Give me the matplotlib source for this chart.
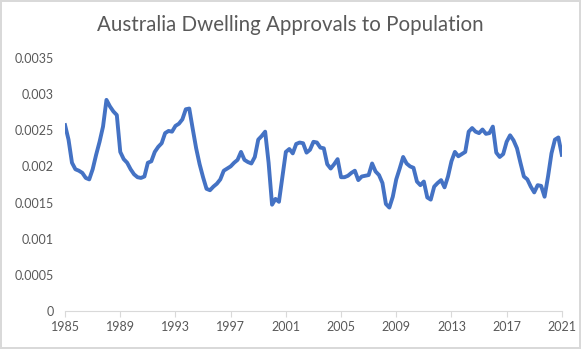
import matplotlib.pyplot as plt
import numpy as np

# --- quarterly ratio, 1985 Q1 to 2021 Q1 ---
start_year = 1985
end_year = 2021
ratio = [
    0.00257, 0.00237, 0.00205, 0.00196,   # 1985
    0.00194, 0.00191, 0.00184, 0.00182,   # 1986
    0.00196, 0.00216, 0.00234, 0.00255,   # 1987
    0.00292, 0.00283, 0.00276, 0.00271,   # 1988
    0.00220, 0.00210, 0.00205, 0.00196,   # 1989
    0.00189, 0.00185, 0.00184, 0.00186,   # 1990
    0.00205, 0.00207, 0.00220, 0.00227,   # 1991
    0.00232, 0.00246, 0.00249, 0.00248,   # 1992
    0.00256, 0.00259, 0.00265, 0.00279,   # 1993
    0.00280, 0.00252, 0.00225, 0.00203,   # 1994
    0.00185, 0.00169, 0.00167, 0.00172,   # 1995
    0.00176, 0.00182, 0.00194, 0.00197,   # 1996
    0.00200, 0.00205, 0.00209, 0.00220,   # 1997
    0.00209, 0.00206, 0.00204, 0.00213,   # 1998
    0.00237, 0.00242, 0.00248, 0.00205,   # 1999
    0.00147, 0.00155, 0.00151, 0.00186,   # 2000
    0.00220, 0.00224, 0.00218, 0.00231,   # 2001
    0.00233, 0.00232, 0.00219, 0.00223,   # 2002
    0.00234, 0.00233, 0.00226, 0.00225,   # 2003
    0.00203, 0.00197, 0.00203, 0.00210,   # 2004
    0.00185, 0.00185, 0.00187, 0.00191,   # 2005
    0.00194, 0.00181, 0.00186, 0.00187,   # 2006
    0.00188, 0.00204, 0.00193, 0.00188,   # 2007
    0.00177, 0.00148, 0.00143, 0.00158,   # 2008
    0.00182, 0.00197, 0.00213, 0.00204,   # 2009
    0.00200, 0.00198, 0.00179, 0.00174,   # 2010
    0.00179, 0.00157, 0.00154, 0.00172,   # 2011
    0.00177, 0.00181, 0.00171, 0.00186,   # 2012
    0.00207, 0.00220, 0.00214, 0.00217,   # 2013
    0.00220, 0.00248, 0.00253, 0.00248,   # 2014
    0.00246, 0.00251, 0.00245, 0.00246,   # 2015
    0.00255, 0.00219, 0.00213, 0.00217,   # 2016
    0.00234, 0.00243, 0.00236, 0.00225,   # 2017
    0.00205, 0.00186, 0.00182, 0.00172,   # 2018
    0.00164, 0.00174, 0.00173, 0.00158,   # 2019
    0.00186, 0.00218, 0.00237, 0.00240,   # 2020
    0.00216,                              # 2021
]
tick_years = list(range(start_year, end_year + 1, 4))
y_ticks = [0, 0.0005, 0.001, 0.0015, 0.002, 0.0025, 0.003, 0.0035]
y_labels = ["0", "0.0005", "0.001", "0.0015", "0.002", "0.0025", "0.003", "0.0035"]

plt.rcParams["font.family"] = ["Lato", "DejaVu Sans"]
grey = "#595959"

# --- canvas with the light Excel border ---
fig = plt.figure(figsize=(5.81, 3.49), dpi=100,
                 edgecolor="#D9D9D9", linewidth=1.5)
ax = fig.add_axes([0.112, 0.109, 0.855, 0.725])

x = np.arange(len(ratio))
ax.plot(x, ratio, color="#4472C4", linewidth=2.8, solid_joinstyle="round")

# --- axes styling ---
ax.set_xlim(0, len(ratio) - 1)
ax.set_ylim(0, 0.0035)
ax.set_xticks([(yr - start_year) * 4 for yr in tick_years])
ax.set_xticklabels([str(yr) for yr in tick_years])
ax.set_yticks(y_ticks)
ax.set_yticklabels(y_labels)

for side in ["top", "right", "left"]:
    ax.spines[side].set_visible(False)
ax.spines["bottom"].set_color("#D9D9D9")
ax.tick_params(axis="x", colors="#D9D9D9", labelcolor=grey,
               labelsize=9, length=4, direction="out", pad=3)
ax.tick_params(axis="y", length=0, labelcolor=grey, labelsize=9, pad=8)

fig.suptitle("Australia Dwelling Approvals to Population",
             fontsize=14.8, color=grey, y=0.957)

plt.savefig("out.png", dpi=100, edgecolor=fig.get_edgecolor())
